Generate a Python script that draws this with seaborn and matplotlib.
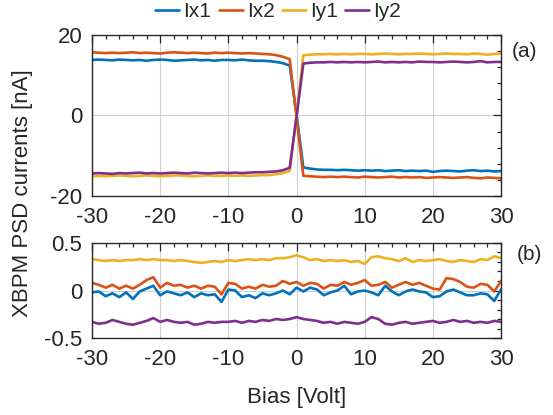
import numpy as np
import pandas as pd
import matplotlib
matplotlib.use("Agg")
import matplotlib.pyplot as plt
from matplotlib.ticker import MultipleLocator
import seaborn as sns

# Bias sweep (V)
bias = list(range(-30, 31))
channels = ["Ix1", "Ix2", "Iy1", "Iy2"]
colors = ["#0072BD", "#D95319", "#EDB120", "#7E2F8E"]

# (a) PSD currents [nA]
ix1_a = [13.8, 13.9, 13.8, 13.7, 13.9, 13.8, 13.7, 13.8, 13.6, 13.8, 13.9, 13.8, 13.6, 13.7, 13.8,
         13.9, 13.7, 13.8, 13.6, 13.8, 13.8, 13.7, 13.9, 13.7, 13.6, 13.6, 13.5, 13.3, 13.0, 12.4,
         0.3,
         -12.9, -13.2, -13.4, -13.5, -13.5, -13.6, -13.5, -13.6, -13.7, -13.6, -13.7, -13.6, -13.8, -13.7, -13.6,
         -13.8, -13.7, -13.8, -13.7, -14.0, -13.8, -13.7, -13.8, -13.9, -13.7, -13.6, -13.8, -13.7, -13.9, -13.8]
ix2_a = [15.7, 15.6, 15.5, 15.6, 15.5, 15.6, 15.7, 15.5, 15.6, 15.5, 15.4, 15.6, 15.7, 15.6, 15.5,
         15.6, 15.5, 15.4, 15.6, 15.5, 15.6, 15.5, 15.4, 15.5, 15.4, 15.3, 15.2, 15.0, 14.6, 14.0,
         -0.5,
         -15.0, -15.1, -15.2, -15.3, -15.2, -15.3, -15.2, -15.3, -15.4, -15.2, -15.3, -15.4, -15.3, -15.2, -15.4,
         -15.3, -15.4, -15.3, -15.5, -15.4, -15.3, -15.4, -15.5, -15.4, -15.3, -15.5, -15.6, -15.4, -15.5, -15.6]
iy1_a = [-15.1, -15.0, -15.1, -15.0, -14.9, -15.0, -15.1, -15.0, -14.9, -15.0, -15.1, -15.0, -14.9, -14.9, -15.0,
         -15.1, -15.0, -14.9, -15.0, -15.0, -14.9, -15.0, -14.9, -15.0, -14.9, -14.8, -14.8, -14.6, -14.3, -13.8,
         0.0,
         15.0, 15.1, 15.2, 15.2, 15.3, 15.2, 15.3, 15.2, 15.3, 15.3, 15.2, 15.3, 15.4, 15.3, 15.2,
         15.3, 15.3, 15.4, 15.3, 15.2, 15.3, 15.4, 15.3, 15.3, 15.2, 15.4, 15.3, 15.1, 15.3, 15.4]
iy2_a = [-14.4, -14.3, -14.4, -14.5, -14.3, -14.4, -14.3, -14.2, -14.4, -14.3, -14.4, -14.3, -14.2, -14.3, -14.4,
         -14.2, -14.3, -14.4, -14.3, -14.2, -14.3, -14.2, -14.3, -14.2, -14.1, -14.1, -14.0, -13.9, -13.6, -13.0,
         -0.3,
         12.9, 13.1, 13.2, 13.2, 13.3, 13.2, 13.3, 13.2, 13.3, 13.2, 13.3, 13.4, 13.2, 13.3, 13.2,
         13.3, 13.2, 13.4, 13.3, 13.3, 13.2, 13.3, 13.4, 13.3, 13.2, 13.3, 13.5, 13.2, 13.3, 13.3]

# (b) PSD currents [nA], zoomed scale
ix1_b = [-0.02, -0.01, -0.06, -0.03, -0.07, -0.02, -0.09, -0.01, 0.02, 0.05, -0.05, -0.01, -0.03, -0.05, -0.02,
         -0.07, -0.03, -0.05, -0.04, -0.12, 0.01, 0.00, -0.07, -0.05, -0.08, -0.03, -0.05, -0.03, 0.00, -0.04,
         0.03,
         -0.01, 0.03, 0.01, -0.05, -0.02, 0.00, 0.05, -0.04, -0.01, 0.00, -0.02, -0.05, 0.05, -0.01, -0.05,
         -0.01, 0.01, -0.01, -0.02, -0.07, -0.06, -0.01, 0.01, -0.02, -0.05, -0.05, -0.03, -0.04, -0.11, 0.01]
ix2_b = [0.08, 0.06, 0.03, 0.06, 0.02, 0.05, 0.02, 0.06, 0.11, 0.14, 0.03, 0.08, 0.05, 0.06, 0.03,
         0.05, 0.02, 0.05, 0.04, -0.04, 0.08, 0.07, 0.02, 0.04, 0.02, 0.06, 0.04, 0.05, 0.10, 0.07,
         0.09,
         0.05, 0.08, 0.07, 0.02, 0.06, 0.05, 0.09, 0.06, 0.08, 0.11, 0.05, 0.06, 0.09, 0.03, 0.06,
         0.09, 0.06, 0.08, 0.05, 0.02, 0.01, 0.13, 0.12, 0.09, 0.04, 0.03, 0.07, 0.06, -0.01, 0.10]
iy1_b = [0.33, 0.32, 0.31, 0.32, 0.31, 0.32, 0.32, 0.33, 0.32, 0.33, 0.32, 0.32, 0.31, 0.32, 0.31,
         0.30, 0.29, 0.30, 0.31, 0.30, 0.32, 0.31, 0.32, 0.33, 0.32, 0.33, 0.32, 0.34, 0.34, 0.35,
         0.37,
         0.35, 0.32, 0.33, 0.31, 0.32, 0.31, 0.32, 0.30, 0.31, 0.28, 0.35, 0.36, 0.34, 0.33, 0.31,
         0.34, 0.30, 0.32, 0.31, 0.32, 0.33, 0.31, 0.30, 0.32, 0.31, 0.30, 0.33, 0.32, 0.36, 0.34]
iy2_b = [-0.33, -0.35, -0.34, -0.31, -0.33, -0.35, -0.36, -0.34, -0.32, -0.29, -0.33, -0.31, -0.33, -0.34, -0.33,
         -0.36, -0.35, -0.33, -0.34, -0.33, -0.33, -0.32, -0.34, -0.32, -0.33, -0.31, -0.32, -0.30, -0.31, -0.30,
         -0.28,
         -0.30, -0.31, -0.32, -0.34, -0.33, -0.35, -0.33, -0.34, -0.35, -0.33, -0.28, -0.30, -0.35, -0.36, -0.34,
         -0.33, -0.35, -0.34, -0.33, -0.32, -0.34, -0.33, -0.31, -0.33, -0.32, -0.34, -0.33, -0.34, -0.32, -0.33]

xticks = [-30, -20, -10, 0, 10, 20, 30]


def long_frame(series):
    rows = []
    for name, vals in zip(channels, series):
        rows.append(pd.DataFrame({"Bias": bias, "I": vals, "Channel": name}))
    return pd.concat(rows, ignore_index=True)


df_a = long_frame([ix1_a, ix2_a, iy1_a, iy2_a])
df_b = long_frame([ix1_b, ix2_b, iy1_b, iy2_b])

sns.set_theme(style="white")
plt.rcParams["font.family"] = ["Liberation Sans", "DejaVu Sans"]
text_c = "#262626"
plt.rcParams.update({
    "text.color": text_c, "axes.labelcolor": text_c,
    "xtick.color": text_c, "ytick.color": text_c,
    "axes.edgecolor": text_c,
})

fig = plt.figure(figsize=(5.53, 4.15), dpi=100)
fig.patch.set_facecolor("white")
ax1 = fig.add_axes([0.1664, 0.5277, 0.7396, 0.388])
ax2 = fig.add_axes([0.1664, 0.1855, 0.7396, 0.229])

palette = dict(zip(channels, colors))
sns.lineplot(data=df_a, x="Bias", y="I", hue="Channel", palette=palette,
             linewidth=1.9, ax=ax1, legend=True)
sns.lineplot(data=df_b, x="Bias", y="I", hue="Channel", palette=palette,
             linewidth=1.9, ax=ax2, legend=False)

for ax in (ax1, ax2):
    ax.set_xlim(-30, 30)
    ax.set_xticks(xticks)
    ax.set_xticklabels([str(t) for t in xticks])
    ax.xaxis.set_minor_locator(MultipleLocator(2))
    ax.tick_params(which="both", direction="in", top=True, right=True,
                   labelsize=16, width=0.9)
    ax.tick_params(axis="y", pad=7)
    ax.tick_params(axis="x", pad=8)
    ax.tick_params(which="major", length=6)
    ax.tick_params(which="minor", length=3)
    ax.grid(True, which="major", color="#d0d0d0", linewidth=0.8)
    ax.set_axisbelow(True)
    for s in ax.spines.values():
        s.set_linewidth(1.0)
        s.set_color(text_c)
    ax.set_ylabel("")
    ax.set_xlabel("")

ax1.set_ylim(-20, 20)
ax1.set_yticks([-20, 0, 20])
ax1.set_yticklabels(["-20", "0", "20"])
ax1.yaxis.set_minor_locator(MultipleLocator(4))
ax2.set_ylim(-0.5, 0.5)
ax2.set_yticks([-0.5, 0, 0.5])
ax2.set_yticklabels(["-0.5", "0", "0.5"])
ax2.yaxis.set_minor_locator(MultipleLocator(0.1))

ax2.set_xlabel("Bias [Volt]", fontsize=16, labelpad=12)
fig.text(0.04, 0.535, "XBPM PSD currents [nA]", rotation=90, fontsize=16,
         ha="center", va="center")

fig.text(0.949, 0.877, "(a)", fontsize=15, ha="center", va="center")
fig.text(0.958, 0.386, "(b)", fontsize=15, ha="center", va="center")

handles, labels = ax1.get_legend_handles_labels()
ax1.get_legend().remove()
fig.legend(handles, labels, loc="center", bbox_to_anchor=(0.503, 0.972), ncol=4,
           frameon=False, fontsize=15, handlelength=1.15, handletextpad=0.2,
           columnspacing=0.35, borderaxespad=0)

fig.savefig("out.png", dpi=100, facecolor="white")
